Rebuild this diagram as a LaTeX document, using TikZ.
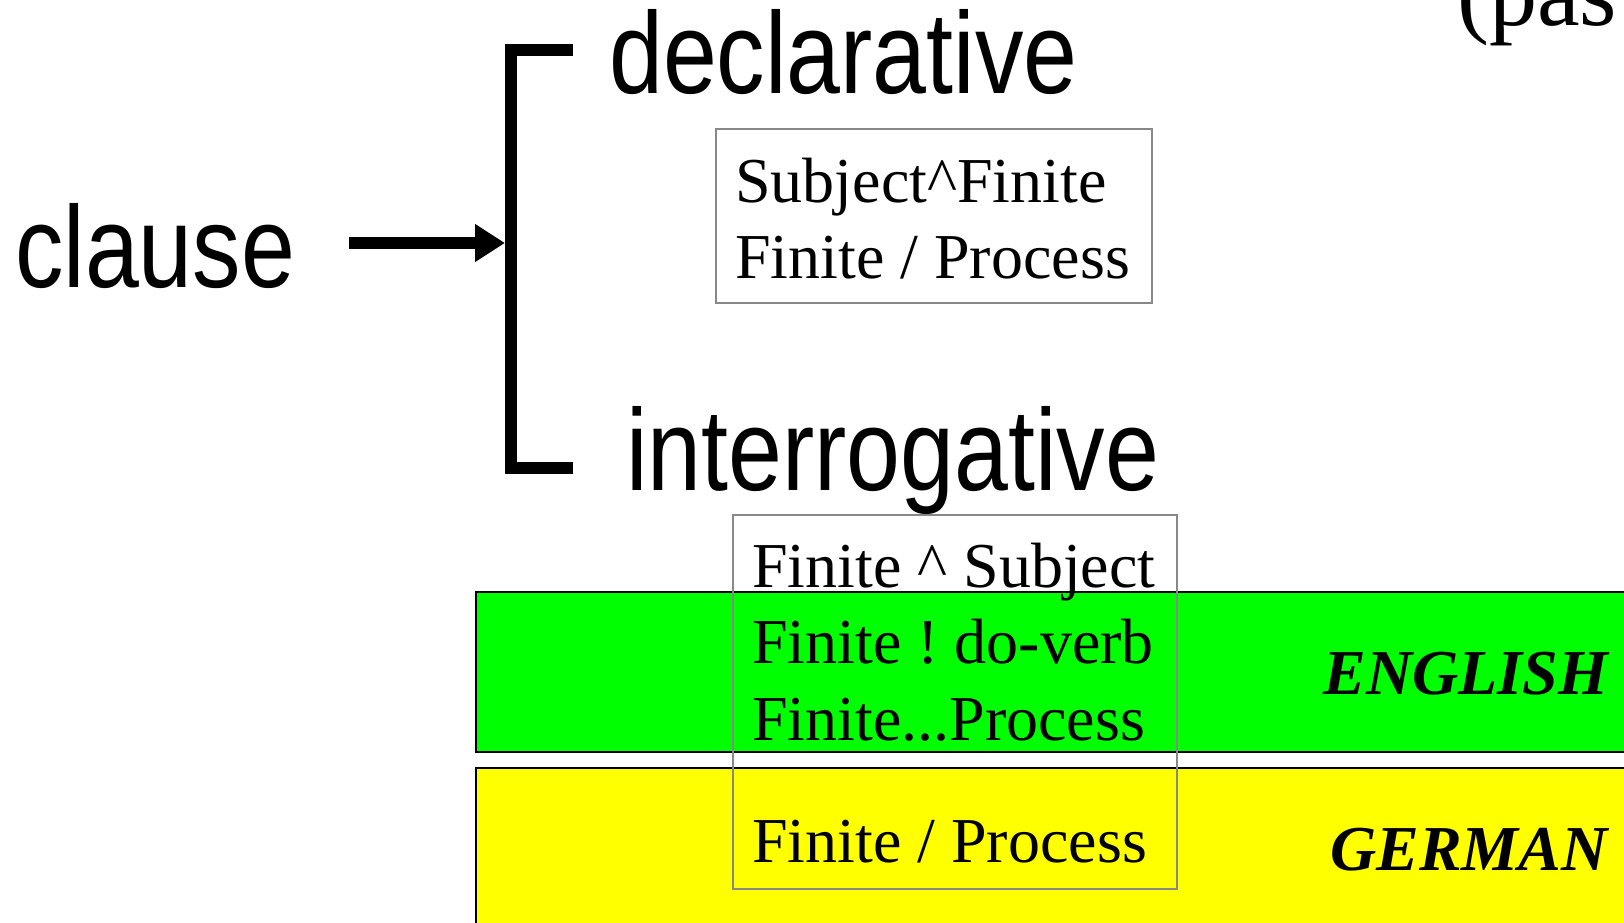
\documentclass[tikz,border=0pt]{standalone}
\usepackage{fontspec}
\setmainfont{Liberation Serif}
\newfontfamily\narrowfont{Liberation Sans}[FakeStretch=0.835]
\usetikzlibrary{arrows.meta}
\frenchspacing

\definecolor{boxgray}{RGB}{136,136,136}
\definecolor{englishgreen}{RGB}{0,255,0}
\definecolor{germanyellow}{RGB}{255,255,0}

\tikzset{
  feature/.style={font=\narrowfont\fontsize{116}{116}\selectfont, inner sep=0pt, anchor=base west},
  realization/.style={font=\fontsize{64}{64}\selectfont, inner sep=0pt, anchor=base west},
  language/.style={font=\bfseries\itshape\fontsize{64}{64}\selectfont, inner sep=0pt, anchor=base east},
  rulebox/.style={draw=boxgray, line width=1.5pt},
  band/.style={draw=black, line width=1.5pt},
  systemline/.style={line width=12pt, line join=miter},
}

\begin{document}
\begin{tikzpicture}[x=1pt, y=-1pt]
    \useasboundingbox (0,0) rectangle (1624,923);
    \clip (0,0) rectangle (1624,923);% Cuts the bands at the page edge

    \coordinate (ArrowStart) at (349,243);
    \coordinate (Fork)       at (511,243);
    \coordinate (DeclEnd)    at (573,50);
    \coordinate (InterEnd)   at (573,468);

    \draw [band, fill=englishgreen] (476,592) rectangle (1640,752);% English band
    \draw [band, fill=germanyellow] (476,768) rectangle (1640,940);% German band

    \node [feature] (Clause)        at (15,287)  {clause};
    \node [feature] (Declarative)   at (609,94)  {declarative};
    \node [feature] (Interrogative) at (626,490) {interrogative};

    \draw [systemline, -{Triangle[length=30pt,width=36pt]}, shorten >=6pt]
        (ArrowStart) -- (Fork);
    \draw [systemline] (DeclEnd) -| (Fork) |- (InterEnd);% System bracket

          % Realization statements of the two features
    \draw [rulebox] (716,129) rectangle (1152,303);
    \node [realization] (DeclSubjFin)  at (735,202) {Subject\textasciicircum Finite};
    \node [realization] (DeclFinProc)  at (735,278) {Finite / Process};

    \draw [rulebox] (733,515) rectangle (1177,889);
    \node [realization] (InterFinSubj) at (752,587) {Finite \textasciicircum{} Subject};
    \node [realization] (InterDoVerb)  at (752,663) {Finite ! do-verb};
    \node [realization] (InterFinProc) at (752,740) {Finite...Process};
    \node [realization] (InterFusion)  at (752,862) {Finite / Process};

    \node [language] (English) at (1608,694) {ENGLISH};
    \node [language] (German)  at (1608,870) {GERMAN};

    \node [font=\fontsize{96}{96}\selectfont, inner sep=0pt, anchor=base west]
        (PastNote) at (1457,26) {(pas};
\end{tikzpicture}
\end{document}
